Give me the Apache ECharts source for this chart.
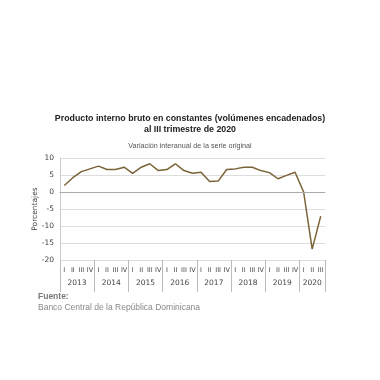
<!DOCTYPE html>
<html><head><meta charset="utf-8">
<script src="https://cdn.jsdelivr.net/npm/echarts@6/dist/echarts.min.js"></script>
<style>html,body{margin:0;padding:0;background:#fff}#c{width:380px;height:380px}</style>
</head><body><div id="c"></div>
<script>
var quarters = ['I','II','III','IV','I','II','III','IV','I','II','III','IV','I','II','III','IV','I','II','III','IV','I','II','III','IV','I','II','III','IV','I','II','III'];
var years = ['2013','2014','2015','2016','2017','2018','2019','2020'];
var yearQuarterCounts = [4,4,4,4,4,4,4,3];
var pibValues = [1.9,4.2,6.0,6.8,7.6,6.6,6.6,7.3,5.5,7.3,8.3,6.3,6.6,8.3,6.3,5.5,5.8,3.1,3.2,6.6,6.8,7.3,7.3,6.3,5.7,3.9,4.9,5.8,0.0,-16.8,-7.1];
var yTicks = [-20,-15,-10,-5,0,5,10];

var halfCats = [], labelIdx = {}, tickIdx = {0:true};
var pos = 0;
for (var i = 0; i < years.length; i++) {
  var n = yearQuarterCounts[i];
  labelIdx[pos + n] = years[i];
  pos += 2 * n;
  tickIdx[pos] = true;
}
for (var k = 0; k <= pos; k++) halfCats.push(labelIdx[k] || '');

var chart = echarts.init(document.getElementById('c'), null, {renderer:'canvas'});
chart.setOption({
  animation: false,
  backgroundColor: '#fff',
  title: [
    {text: 'Producto interno bruto en constantes (volúmenes encadenados)\nal III trimestre de 2020', left: 'center', top: 108,
     textStyle: {fontFamily: 'Liberation Sans', fontSize: 8.8, fontWeight: 'bold', color: '#222', lineHeight: 11, align: 'center'}},
    {text: 'Variación interanual de la serie original', left: 'center', top: 138,
     textStyle: {fontFamily: 'Liberation Sans', fontSize: 7.2, fontWeight: 'normal', color: '#555'}},
    {text: 'Fuente:', left: 33, top: 287,
     textStyle: {fontFamily: 'Liberation Sans', fontSize: 8.5, fontWeight: 'bold', color: '#777'}},
    {text: 'Banco Central de la República Dominicana', left: 33, top: 298,
     textStyle: {fontFamily: 'Liberation Sans', fontSize: 8.5, fontWeight: 'normal', color: '#888'}}
  ],
  grid: {left: 60, right: 55, top: 158, bottom: 120, containLabel: false},
  xAxis: [
    {type: 'category', data: quarters, boundaryGap: true, position: 'bottom',
     axisLine: {show: true, lineStyle: {color: '#bbb', width: 1}},
     axisTick: {show: false},
     axisLabel: {interval: 0, fontFamily: 'DejaVu Sans', fontSize: 6.5, color: '#444', margin: 7},
     splitLine: {show: false}},
    {type: 'category', data: halfCats, boundaryGap: false, position: 'bottom',
     axisLine: {show: false},
     axisTick: {show: true, length: 32, interval: function(idx){ return !!tickIdx[idx]; }, lineStyle: {color: '#bbb'}},
     axisLabel: {interval: 0, fontFamily: 'DejaVu Sans', fontSize: 7.5, color: '#444', margin: 19},
     splitLine: {show: false}}
  ],
  yAxis: {type: 'value', min: -20, max: 10, interval: 5,
    name: 'Porcentajes', nameLocation: 'middle', nameGap: 21, nameRotate: 90, nameMoveOverlap: false,
    nameTextStyle: {fontFamily: 'DejaVu Sans', fontSize: 7.5, color: '#444'},
    axisLine: {show: true, lineStyle: {color: '#ccc'}},
    axisTick: {show: false},
    axisLabel: {fontFamily: 'DejaVu Sans', fontSize: 7.5, color: '#444', margin: 6,
      formatter: function(v){ return yTicks.indexOf(v) >= 0 ? String(v) : ''; }},
    splitLine: {show: true, lineStyle: {color: '#ddd', width: 1}}
  },
  series: [
    {type: 'line', data: pibValues, xAxisIndex: 0, symbol: 'none',
     lineStyle: {color: '#7b6338', width: 1.5},
     markLine: {silent: true, symbol: 'none', label: {show: false},
       lineStyle: {color: '#aaa', width: 1, type: 'solid'}, data: [{yAxis: 0}]}}
  ]
});
</script>
</body></html>
